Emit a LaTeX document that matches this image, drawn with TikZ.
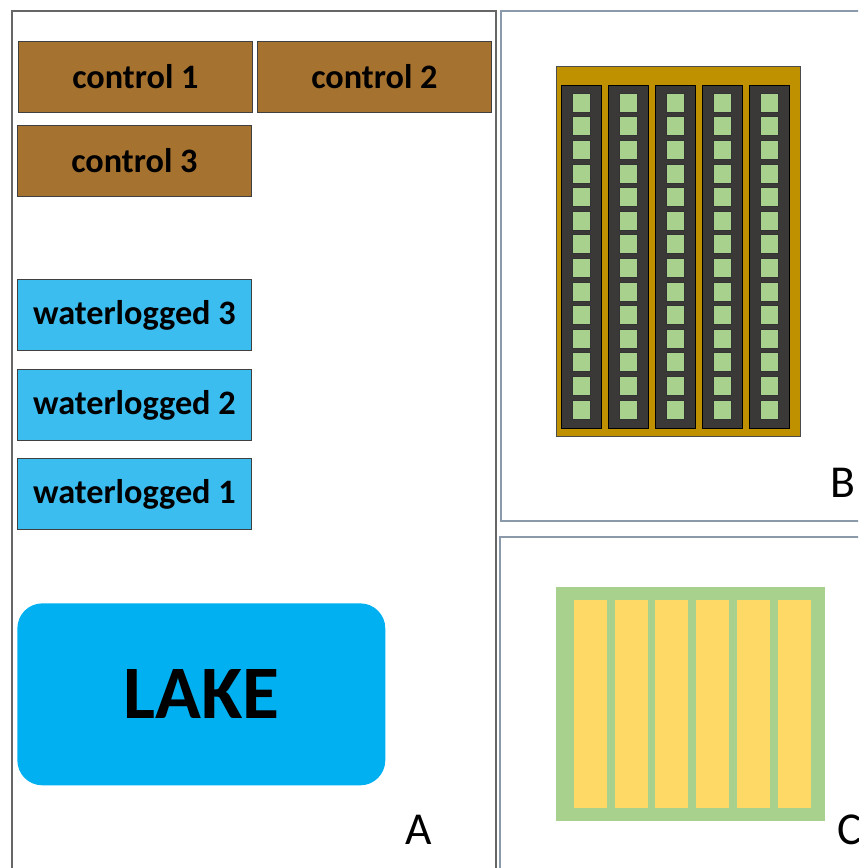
\documentclass[tikz,border=0pt]{standalone}
\usepackage{fontspec}
\setmainfont{Carlito}
\definecolor{soilbrown}{HTML}{A6722F}
\definecolor{wetblue}{HTML}{3BBDEF}
\definecolor{lakeblue}{HTML}{00B0F0}
\definecolor{plotgold}{HTML}{BF9000}
\definecolor{rowdark}{HTML}{3B3838}
\definecolor{leafgreen}{HTML}{A9D18E}
\definecolor{cornyellow}{HTML}{FFD966}
\definecolor{framegray}{HTML}{8A9AAA}
\begin{document}
\begin{tikzpicture}[x=0.02cm,y=-0.02cm,
	plotbox/.style={draw=black!75,line width=0.5pt,inner sep=0pt,minimum width=4.68cm,minimum height=1.42cm,anchor=north west,font=\fontsize{19.5}{21}\selectfont\bfseries},
	ctrl/.style={plotbox,fill=soilbrown},
	wet/.style={plotbox,fill=wetblue},
	panel/.style={draw=framegray,line width=0.6pt},
	tag/.style={font=\fontsize{26}{28}\selectfont}]
	\useasboundingbox (0,0) rectangle (858,868);
	\clip (0,0) rectangle (858,868);
	% panel frames
	\draw[panel,draw=black!60] (12,11) rectangle (496,890);
	\draw[panel] (501,11) rectangle (880,521);
	\draw[panel] (500,537) rectangle (880,890);
	% panel A
	\node[ctrl] (c1) at (18,41) {control 1};
	\node[ctrl] (c2) at (257,41) {control 2};
	\node[ctrl] (c3) at (17,125) {control 3};
	\node[wet] (w3) at (17,279) {waterlogged 3};
	\node[wet] (w2) at (17,369) {waterlogged 2};
	\node[wet] (w1) at (17,458) {waterlogged 1};
	\node[fill=lakeblue,rounded corners=0.5cm,minimum width=7.36cm,minimum height=3.64cm,anchor=north west,inner sep=0pt,font=\fontsize{43}{46}\selectfont\bfseries] (lake) at (17,603) {LAKE};
	\node[tag] (la) at (419,830) {A};
	% panel B
	\draw[fill=plotgold,draw=black!70,line width=0.5pt] (556,66) rectangle (800,436);
	\foreach \i in {0,...,4}{
		\draw[fill=rowdark,draw=black,line width=0.4pt] (561+47*\i,85) rectangle ++(40,343);
		\foreach \j in {0,...,13}
		\draw[fill=leafgreen,draw=black!80,line width=0.3pt] (572+47*\i,93+23.6*\j) rectangle ++(18,19);
	}
	\node[tag] (lb) at (843,483) {B};
	% panel C
	\fill[leafgreen] (556,587) rectangle (825,821);
	\foreach \i in {0,...,5}
	\fill[cornyellow] (574+40.7*\i,600) rectangle ++(33,208);
	\node[tag] (lc) at (850,830) {C};
\end{tikzpicture}
\end{document}
